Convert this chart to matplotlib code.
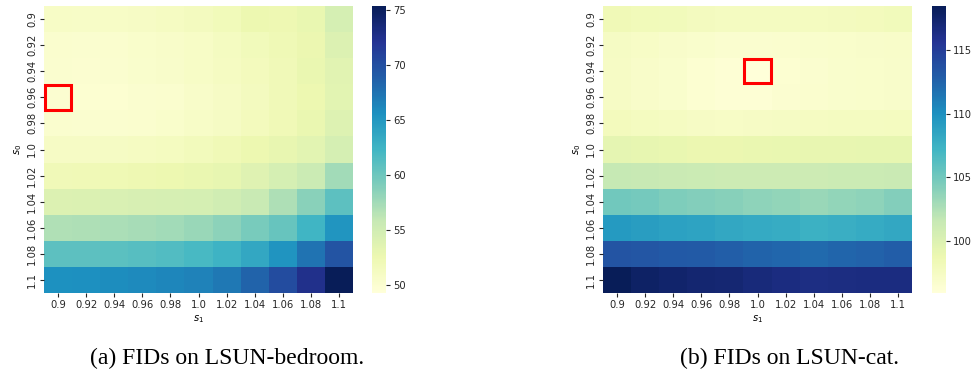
import numpy as np
import matplotlib
matplotlib.use("Agg")
import matplotlib.pyplot as plt
import seaborn as sns
from matplotlib.patches import Rectangle

s_labels = ["0.9", "0.92", "0.94", "0.96", "0.98", "1.0", "1.02", "1.04", "1.06", "1.08", "1.1"]

fid_bedroom = [
    [50.8, 50.7, 50.8, 51.0, 51.2, 51.5, 51.9, 52.6, 52.4, 52.9, 54.6],
    [50.2, 50.1, 50.2, 50.4, 50.6, 50.9, 51.3, 51.8, 52.2, 52.7, 54.0],
    [50.1, 50.0, 50.1, 50.3, 50.5, 50.8, 51.2, 51.6, 52.0, 52.8, 53.6],
    [50.0, 49.9, 49.9, 50.1, 50.2, 50.6, 51.0, 51.5, 52.0, 52.6, 53.5],
    [50.2, 50.1, 50.1, 50.2, 50.4, 50.7, 51.1, 51.6, 52.1, 52.8, 53.9],
    [51.0, 51.0, 51.1, 51.2, 51.4, 51.7, 52.1, 52.6, 53.0, 53.5, 54.6],
    [52.0, 52.1, 52.3, 52.4, 52.6, 52.8, 53.1, 53.8, 54.6, 55.4, 57.5],
    [54.0, 54.1, 54.3, 54.4, 54.5, 54.6, 55.0, 55.6, 57.0, 58.6, 60.8],
    [56.9, 57.0, 57.1, 57.3, 57.5, 57.9, 58.5, 59.4, 60.3, 62.4, 65.2],
    [60.8, 60.8, 60.9, 61.1, 61.4, 62.0, 62.6, 63.6, 65.3, 67.5, 69.6],
    [65.5, 65.6, 65.8, 66.0, 66.2, 66.5, 67.2, 68.5, 70.2, 72.6, 75.36],
]
best_bedroom = (3, 0)  # (row, col)

fid_cat = [
    [98.3, 98.1, 98.0, 97.8, 97.6, 97.6, 97.6, 97.7, 97.8, 97.9, 98.0],
    [97.4, 97.2, 97.0, 96.8, 96.6, 96.6, 96.7, 96.8, 96.9, 97.0, 97.1],
    [97.3, 97.1, 96.8, 96.4, 96.3, 95.9, 96.4, 96.6, 96.8, 96.9, 97.0],
    [97.3, 97.1, 96.8, 96.4, 96.3, 96.3, 96.5, 96.7, 96.8, 96.9, 97.0],
    [97.9, 97.7, 97.5, 97.3, 97.2, 97.3, 97.4, 97.5, 97.6, 97.6, 97.7],
    [99.4, 99.2, 99.0, 98.8, 98.8, 98.9, 99.0, 99.1, 99.1, 99.2, 99.2],
    [101.6, 101.5, 101.3, 101.2, 101.1, 101.1, 101.1, 101.1, 101.2, 101.2, 101.3],
    [105.0, 104.8, 104.4, 104.2, 104.0, 103.8, 103.6, 103.3, 103.6, 103.8, 104.2],
    [109.3, 109.1, 108.8, 108.6, 108.3, 108.1, 107.9, 107.6, 107.7, 108.0, 108.3],
    [113.5, 113.3, 113.1, 113.0, 112.8, 112.5, 112.3, 112.2, 112.4, 112.6, 112.9],
    [118.45, 117.8, 117.5, 117.3, 117.2, 116.8, 116.6, 116.4, 116.5, 116.6, 116.6],
]
best_cat = (2, 5)

vlims_bedroom = (49.27, 75.36)
vlims_cat = (95.87, 118.47)

captions = ["(a) FIDs on LSUN-bedroom.", "(b) FIDs on LSUN-cat."]

W, H = 977, 377
fig = plt.figure(figsize=(W / 100, H / 100), dpi=100)

def fx(px):
    return px / W

def fy(py):
    return 1 - py / H

panels = [
    (fid_bedroom, best_bedroom, vlims_bedroom, 44, 372, [50, 55, 60, 65, 70, 75], captions[0], 227),
    (fid_cat, best_cat, vlims_cat, 603, 932, [100, 105, 110, 115], captions[1], 790),
]

top, bottom = 6, 293
for data, best, vl, axl, cbl, cticks, cap, capx in panels:
    ax = fig.add_axes([fx(axl), fy(bottom), fx(309), (bottom - top) / H])
    cax = fig.add_axes([fx(cbl), fy(bottom), fx(14), (bottom - top) / H])
    sns.heatmap(np.array(data), ax=ax, cbar_ax=cax, cmap="YlGnBu",
                vmin=vl[0], vmax=vl[1], xticklabels=s_labels, yticklabels=s_labels)
    ax.tick_params(axis="both", labelsize=7.2, length=3, width=0.8, pad=2, colors="#262626")
    ax.tick_params(axis="x", labelrotation=0)
    ax.tick_params(axis="y", labelrotation=90)
    for t in ax.get_yticklabels():
        t.set_va("center")
    ax.set_xlabel("$s_1$", fontsize=7.2, labelpad=2)
    ax.set_ylabel("$s_0$", fontsize=7.2, labelpad=2)
    r, c = best
    ax.add_patch(Rectangle((c + 0.03, r + 0.03), 0.94, 0.94, fill=False,
                           edgecolor="#ff0000", linewidth=2.2, clip_on=False, zorder=5))
    cax.set_yticks(cticks)
    cax.tick_params(labelsize=7.2, length=3, width=0.8, pad=2, colors="#262626")
    for s in cax.spines.values():
        s.set_visible(False)
    fig.text(fx(capx), fy(358), cap, ha="center", va="center",
             family="Liberation Serif", fontsize=17)

fig.savefig("out.png", dpi=100)
